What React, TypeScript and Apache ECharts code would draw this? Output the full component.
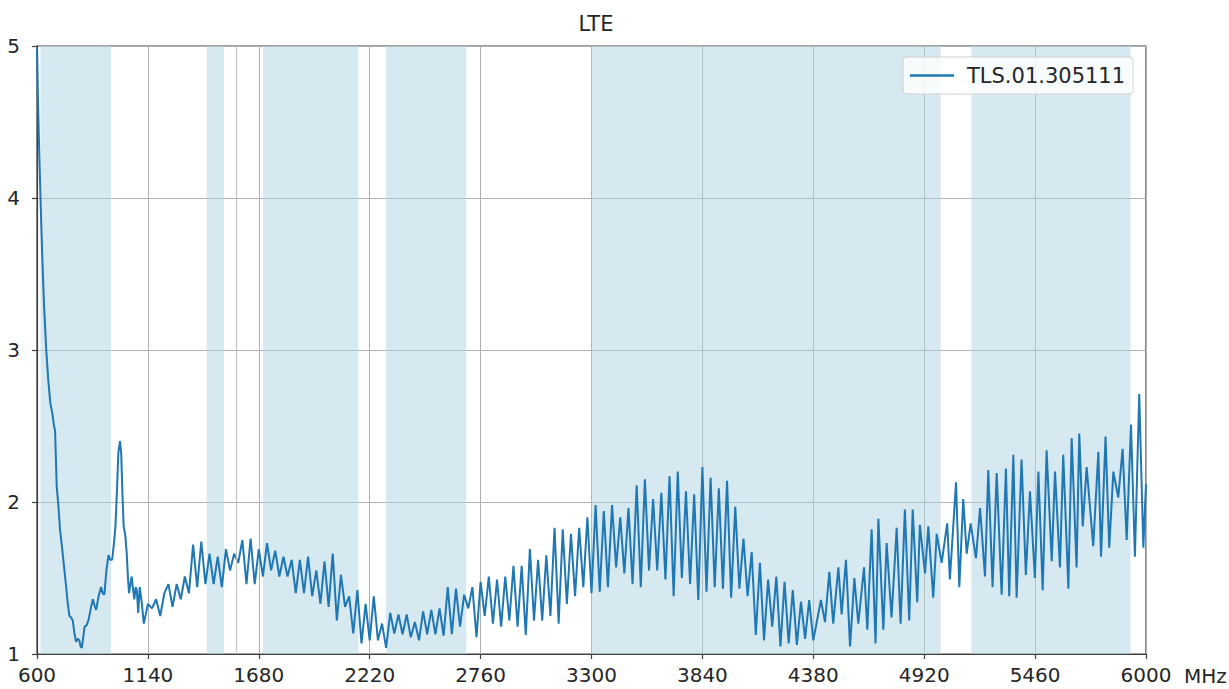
import React, { useEffect, useRef } from "react";
import * as echarts from "echarts";

const SERIES_NAME = "TLS.01.305111";

// Shaded LTE bands (MHz)
const bandStarts = [617, 1427, 1700, 2300, 3300, 5150];
const bandEnds = [960, 1511, 2165, 2690, 5000, 5925];
// thin marker line
const markerFreqs = [1570];

// axes
const xMin = 600;
const xMax = 6000;
const xStep = 540;
const yMin = 1;
const yMax = 5;

// head of the trace (irregular sampling)
const headFreqs = [600, 604, 610, 618, 626, 634, 645, 655, 665, 675, 683, 688, 696, 704, 712, 722, 732, 742, 750, 758, 766, 774, 782, 790, 798, 806, 812, 818, 824, 832, 842, 852, 862, 872, 880, 888, 900, 912, 920, 928, 938, 948, 956, 966, 974, 982, 990, 996, 1004, 1010, 1016, 1022, 1030, 1037, 1043, 1048, 1055, 1061, 1068, 1074, 1080, 1086, 1093, 1100, 1110];
const headValues = [4.98, 4.7, 4.35, 3.95, 3.6, 3.3, 3.0, 2.8, 2.65, 2.58, 2.5, 2.47, 2.1, 1.98, 1.82, 1.70, 1.57, 1.44, 1.33, 1.25, 1.24, 1.22, 1.14, 1.08, 1.10, 1.09, 1.05, 1.04, 1.10, 1.18, 1.19, 1.23, 1.30, 1.36, 1.32, 1.29, 1.38, 1.44, 1.40, 1.39, 1.55, 1.65, 1.62, 1.62, 1.72, 1.84, 2.10, 2.32, 2.40, 2.32, 2.05, 1.84, 1.78, 1.66, 1.50, 1.40, 1.46, 1.51, 1.42, 1.36, 1.44, 1.42, 1.27, 1.44, 1.34];

// middle of the trace, sampled every 20 MHz starting at 1120
const gridStart = 1120;
const gridStep = 20;
const seg1120 = [1.20, 1.33, 1.30, 1.36, 1.25, 1.40, 1.46, 1.31, 1.46, 1.36, 1.51, 1.40];
const seg1360 = [1.72, 1.44, 1.74, 1.46, 1.66, 1.46, 1.64, 1.44, 1.69, 1.55, 1.66, 1.60, 1.75, 1.46, 1.76, 1.46, 1.69, 1.51, 1.73, 1.55, 1.68, 1.51, 1.64, 1.51, 1.62, 1.40, 1.62, 1.40, 1.64, 1.38, 1.55, 1.33];
const seg2000 = [1.61, 1.31, 1.66, 1.22, 1.52, 1.31, 1.38, 1.135, 1.42, 1.07, 1.33, 1.09, 1.38, 1.09, 1.20, 1.04, 1.27, 1.135, 1.26, 1.13, 1.26, 1.11, 1.21, 1.09, 1.28, 1.13, 1.29, 1.13, 1.30, 1.12, 1.44, 1.13, 1.43, 1.18, 1.39, 1.30, 1.44, 1.11];
const seg2760 = [1.475, 1.25, 1.51, 1.20, 1.49, 1.18, 1.51, 1.22, 1.58, 1.18, 1.58, 1.125, 1.69, 1.22, 1.62, 1.22, 1.65, 1.25, 1.83, 1.20, 1.82, 1.33, 1.79, 1.38, 1.83, 1.44, 1.90, 1.40];
const seg3320 = [1.98, 1.41, 1.94, 1.44, 1.98, 1.57, 1.90, 1.53, 1.96, 1.46, 2.11, 1.44, 2.15, 1.55, 2.02, 1.55, 2.06, 1.49, 2.17, 1.38, 2.20, 1.50, 2.07, 1.46, 2.05, 1.355, 2.23, 1.41, 2.16, 1.44, 2.09, 1.43, 2.14, 1.37, 1.97, 1.43, 1.76, 1.38, 1.67, 1.125, 1.60, 1.09, 1.49, 1.18, 1.51, 1.05, 1.475, 1.07, 1.42, 1.06, 1.345, 1.10, 1.355, 1.09];

// tail of the trace (irregular sampling)
const tailFreqs = [4417, 4437, 4458, 4477, 4502, 4518, 4539, 4559, 4580, 4599, 4627, 4643, 4664, 4683, 4697, 4721, 4737, 4761, 4786, 4805, 4826, 4847, 4864, 4886, 4899, 4924, 4940, 4964, 4981, 5005, 5032, 5045, 5075, 5091, 5110, 5127, 5146, 5172, 5192, 5216, 5232, 5253, 5273, 5297, 5318, 5334, 5354, 5370, 5394, 5415, 5435, 5459, 5476, 5497, 5516, 5541, 5557, 5581, 5597, 5622, 5638, 5662, 5675, 5692, 5711, 5743, 5768, 5781, 5803, 5821, 5841, 5865, 5886, 5906, 5927, 5946, 5967, 5987, 6000];
const tailValues = [1.355, 1.21, 1.54, 1.20, 1.57, 1.26, 1.62, 1.05, 1.50, 1.20, 1.57, 1.16, 1.82, 1.07, 1.89, 1.16, 1.73, 1.24, 1.83, 1.20, 1.95, 1.22, 1.95, 1.34, 1.85, 1.53, 1.84, 1.37, 1.79, 1.60, 1.86, 1.49, 2.13, 1.44, 2.02, 1.66, 1.86, 1.63, 1.96, 1.51, 2.21, 1.44, 2.19, 1.39, 2.22, 1.38, 2.31, 1.37, 2.28, 1.52, 2.07, 1.50, 2.20, 1.42, 2.34, 1.61, 2.20, 1.57, 2.31, 1.43, 2.42, 1.57, 2.45, 1.84, 2.23, 1.71, 2.33, 1.64, 2.43, 1.70, 2.20, 2.03, 2.35, 1.75, 2.51, 1.64, 2.71, 1.70, 2.12];

const FONT = "DejaVu Sans";
const TEXT = "#262626";
const AXIS = "#404040";

export default function App() {
  const ref = useRef<HTMLDivElement>(null);

  useEffect(() => {
    if (!ref.current) return;
    const chart = echarts.init(ref.current, null, { renderer: "svg" });

    const gridValues = [...seg1120, ...seg1360, ...seg2000, ...seg2760, ...seg3320];
    const data: [number, number][] = [];
    headFreqs.forEach((f, i) => data.push([f, headValues[i]]));
    gridValues.forEach((v, i) => data.push([gridStart + i * gridStep, v]));
    tailFreqs.forEach((f, i) => data.push([f, tailValues[i]]));

    chart.setOption({
      animation: false,
      backgroundColor: "#ffffff",
      textStyle: { fontFamily: FONT },
      title: {
        text: "LTE",
        left: 591,
        top: 8,
        textAlign: "center",
        textStyle: { fontFamily: FONT, fontSize: 21, fontWeight: "normal", color: TEXT },
      },
      legend: {
        data: [{ name: SERIES_NAME, icon: "rect" }],
        left: 903,
        top: 57,
        itemWidth: 44,
        itemHeight: 2.5,
        padding: [8, 8, 8, 7],
        backgroundColor: "rgba(255,255,255,0.8)",
        borderColor: "#d0d0d0",
        borderWidth: 1,
        borderRadius: 4,
        textStyle: { fontFamily: FONT, fontSize: 21, color: TEXT, padding: [0, 0, 0, 8] },
      },
      grid: {
        left: 37,
        right: 83,
        top: 46,
        bottom: 35,
        outerBoundsMode: "none",
        containLabel: false,
        show: true,
        borderColor: AXIS,
        borderWidth: 1.2,
        backgroundColor: "transparent",
      },
      xAxis: {
        type: "value",
        min: xMin,
        max: xMax,
        interval: xStep,
        name: "MHz",
        nameLocation: "end",
        nameGap: 38,
        nameTextStyle: { fontFamily: FONT, fontSize: 20, color: TEXT, verticalAlign: "top", padding: [12, 0, 0, 0] },
        axisLine: { show: true, lineStyle: { color: AXIS, width: 1.2 } },
        axisTick: { show: true, length: 5, lineStyle: { color: AXIS, width: 1.2 } },
        axisLabel: { fontFamily: FONT, fontSize: 20, color: TEXT, margin: 11, formatter: (v: number) => String(v) },
        splitLine: { show: true, lineStyle: { color: "#b0b0b0", width: 1 } },
      },
      yAxis: {
        type: "value",
        min: yMin,
        max: yMax,
        interval: 1,
        axisLine: { show: true, lineStyle: { color: AXIS, width: 1.2 } },
        axisTick: { show: true, length: 5, lineStyle: { color: AXIS, width: 1.2 } },
        axisLabel: { fontFamily: FONT, fontSize: 20, lineHeight: 20, color: TEXT, margin: 17 },
        splitLine: { show: true, lineStyle: { color: "#b0b0b0", width: 1 } },
      },
      series: [
        {
          type: "line",
          name: SERIES_NAME,
          data,
          showSymbol: false,
          symbol: "none",
          lineStyle: { color: "#1f77b4", width: 2 },
          itemStyle: { color: "#1f77b4" },
          markArea: {
            silent: true,
            itemStyle: { color: "rgba(173,210,225,0.5)" },
            data: bandStarts.map((s, i) => [{ xAxis: s }, { xAxis: bandEnds[i] }]),
          },
          markLine: {
            silent: true,
            symbol: "none",
            label: { show: false },
            lineStyle: { color: "#c4c4c4", type: "solid", width: 1.2 },
            data: markerFreqs.map((f) => ({ xAxis: f })),
          },
        },
      ],
    });

    return () => chart.dispose();
  }, []);

  return (
    <div
      ref={ref}
      style={{ position: "fixed", left: 0, top: 0, width: 1229, height: 689, background: "#fff" }}
    />
  );
}
